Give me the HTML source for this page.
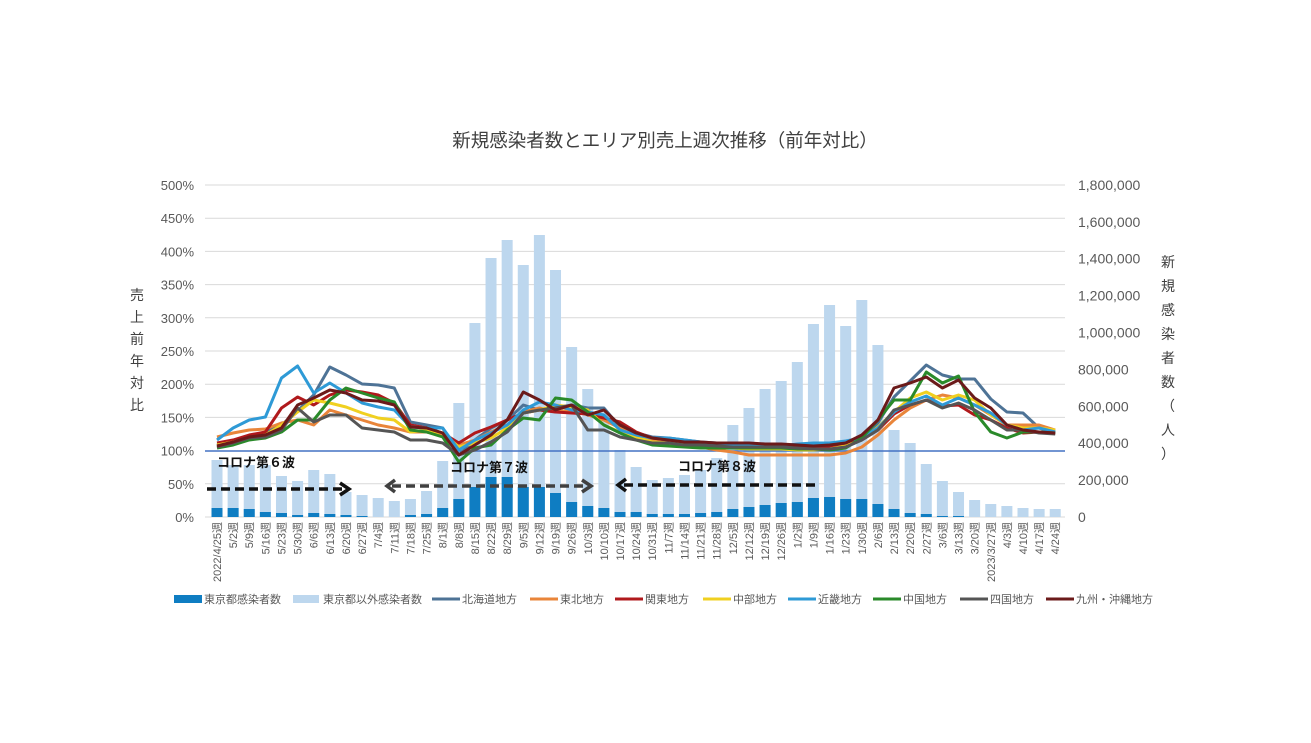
<!DOCTYPE html>
<html><head><meta charset="utf-8"><style>
html,body{margin:0;padding:0;background:#fff;}
svg text{font-family:"Liberation Sans","Noto Sans CJK JP",sans-serif;}
</style></head><body>
<svg id="c" width="1311" height="738" viewBox="0 0 1311 738" xmlns="http://www.w3.org/2000/svg"></svg>
<script>
const S=document.getElementById('c');let h='';
const X=i=>217+i*16.12;
h+='<text x="665" y="147" font-size="18.5" fill="#404040" text-anchor="middle">新規感染者数とエリア別売上週次推移（前年対比）</text>';
for(let k=0;k<=10;k++){const y=517-k*33.2;
 if(k!=2)h+=`<line x1="205" x2="1065" y1="${y}" y2="${y}" stroke="#d9d9d9" stroke-width="1"/>`;
 h+=`<text x="194" y="${y+5}" font-size="13" fill="#595959" text-anchor="end">${k*50}%</text>`;}
for(let k=0;k<=9;k++){const y=517-k*36.9;h+=`<text x="1078" y="${y+5}" font-size="14" fill="#595959">${k==0?'0':(k*200000).toLocaleString('en-US')}</text>`;}
const lt=[460,465,465,465,476,481,470,474,492,495,498,501,499,491,461,403,323,258,240,265,235,270,347,389,412,450,467,480,478,475,470,458,425,408,389,381,362,324,305,326,300,345,430,443,464,481,492,500,504,506,508,509,509];
const dk=[508,508,509,512,513,515,513,514,515,516,517,517,515,514,508,499,487,477,477,487,487,493,502,506,508,512,512,514,514,514,513,512,509,507,505,503,502,498,497,499,499,504,509,513,514,516,516,517,517,517,517,517,517];
for(let i=0;i<53;i++){const x=X(i)-5.5;
 h+=`<rect x="${x}" y="${lt[i]}" width="11" height="${517-lt[i]}" fill="#bdd7ee"/>`;
 h+=`<rect x="${x}" y="${dk[i]}" width="11" height="${517-dk[i]}" fill="#0f7dc2"/>`;}
h+='<line x1="205" x2="1065" y1="451" y2="451" stroke="#4472c4" stroke-width="1.5"/>';
const L=[
['#4e7396',[445,443,437,432,425,411,395,367,375,384,385,388,422,425,428,455,440,428,420,405,410,410,405,408,408,427,433,437,438,440,442,443,445,446,447,447,447,448,447,447,440,423,397,381,365,375,379,379,399,412,413,428,432]],
['#e9853a',[437,433,430,429,423,420,425,410,415,420,425,428,432,432,435,445,440,432,425,412,408,412,410,415,420,428,435,440,443,445,447,450,452,455,455,455,455,455,455,453,447,435,420,408,400,395,398,405,415,425,425,425,430]],
['#b0191c',[443,440,435,432,408,397,405,395,390,392,395,403,425,428,433,443,433,427,420,413,410,412,413,414,418,422,432,438,440,442,443,444,444,445,445,446,446,448,446,444,440,430,414,405,400,406,405,415,420,428,433,432,433]],
['#f0d020',[445,442,438,435,425,412,400,403,407,413,418,420,432,430,433,447,443,438,428,413,410,405,407,410,425,432,437,442,443,445,446,447,448,449,449,449,450,450,449,446,440,427,412,398,392,400,395,400,415,425,428,428,430]],
['#2e9ad6',[440,428,420,417,378,366,393,383,393,403,407,410,427,428,428,450,440,433,425,410,402,405,410,412,415,430,435,438,438,440,442,444,445,446,446,446,444,443,443,441,438,428,412,402,396,405,398,405,413,425,430,428,432]],
['#2a8a2a',[448,445,440,438,432,420,420,400,388,393,398,402,430,432,437,462,448,445,430,418,420,398,400,412,425,433,440,445,446,447,448,448,448,448,448,448,449,449,450,448,438,420,400,400,372,383,376,412,432,438,432,432,433]],
['#555555',[447,443,438,437,430,408,422,415,415,428,430,432,440,440,443,455,450,442,432,413,410,408,405,430,430,437,440,443,443,445,445,446,447,447,447,447,448,449,449,447,440,430,410,405,400,408,403,410,420,430,430,433,434]],
['#6b1a1a',[446,442,437,435,428,405,398,390,393,400,401,405,427,428,433,455,445,435,420,392,400,410,405,415,410,425,433,438,440,442,442,443,443,443,444,444,445,446,445,443,435,420,388,383,377,388,380,398,408,425,430,432,433]]];
L.forEach(([c,a])=>{h+=`<polyline fill="none" stroke="${c}" stroke-width="3" stroke-linejoin="round" points="${a.map((y,i)=>X(i).toFixed(1)+','+y).join(' ')}"/>`;});
h+='<line x1="207" x2="342" y1="489" y2="489" stroke="#111" stroke-width="3.5" stroke-dasharray="9,5"/><polyline points="340,483 349,489 340,495" fill="none" stroke="#111" stroke-width="3.5"/>';
h+='<line x1="392" x2="585" y1="486" y2="486" stroke="#404040" stroke-width="3.5" stroke-dasharray="9,5"/><polyline points="395,480 387,486 395,492" fill="none" stroke="#404040" stroke-width="3.5"/><polyline points="582,480 591,486 582,492" fill="none" stroke="#404040" stroke-width="3.5"/>';
h+='<line x1="624" x2="820" y1="485" y2="485" stroke="#111" stroke-width="3.5" stroke-dasharray="9,5"/><polyline points="626,479 618,485 626,491" fill="none" stroke="#111" stroke-width="3.5"/>';
h+='<text x="217" y="467" font-size="13" font-weight="bold" fill="#111">コロナ第６波</text>';
h+='<text x="450" y="472" font-size="13" font-weight="bold" fill="#111">コロナ第７波</text>';
h+='<text x="678" y="471" font-size="13" font-weight="bold" fill="#111">コロナ第８波</text>';
const lab=['2022/4/25週','5/2週','5/9週','5/16週','5/23週','5/30週','6/6週','6/13週','6/20週','6/27週','7/4週','7/11週','7/18週','7/25週','8/1週','8/8週','8/15週','8/22週','8/29週','9/5週','9/12週','9/19週','9/26週','10/3週','10/10週','10/17週','10/24週','10/31週','11/7週','11/14週','11/21週','11/28週','12/5週','12/12週','12/19週','12/26週','1/2週','1/9週','1/16週','1/23週','1/30週','2/6週','2/13週','2/20週','2/27週','3/6週','3/13週','3/20週','2023/3/27週','4/3週','4/10週','4/17週','4/24週'];
lab.forEach((t,i)=>{const x=X(i)+4;h+=`<text transform="translate(${x},522) rotate(-90)" font-size="11" fill="#595959" text-anchor="end">${t}</text>`;});
'売上前年対比'.split('').forEach((c,i)=>h+=`<text x="137" y="${300+i*22}" font-size="14" fill="#404040" text-anchor="middle">${c}</text>`);
'新規感染者数（人）'.split('').forEach((c,i)=>h+=`<text x="1168" y="${267+i*24}" font-size="14" fill="#404040" text-anchor="middle">${c}</text>`);
const lg=[['bar','#0f7dc2','東京都感染者数',174],['bar','#bdd7ee','東京都以外感染者数',293],['l','#4e7396','北海道地方',432],['l','#e9853a','東北地方',530],['l','#b0191c','関東地方',615],['l','#f0d020','中部地方',703],['l','#2e9ad6','近畿地方',788],['l','#2a8a2a','中国地方',873],['l','#555555','四国地方',960],['l','#6b1a1a','九州・沖縄地方',1046]];
lg.forEach(([t,c,s,x])=>{
 if(t=='bar')h+=`<rect x="${x}" y="595" width="${x<200?28:26}" height="8" fill="${c}"/>`;
 else h+=`<line x1="${x}" x2="${x+28}" y1="599" y2="599" stroke="${c}" stroke-width="3"/>`;
 h+=`<text x="${x+30}" y="603" font-size="11" fill="#595959">${s}</text>`;});
S.innerHTML=h;
</script>
</body></html>
